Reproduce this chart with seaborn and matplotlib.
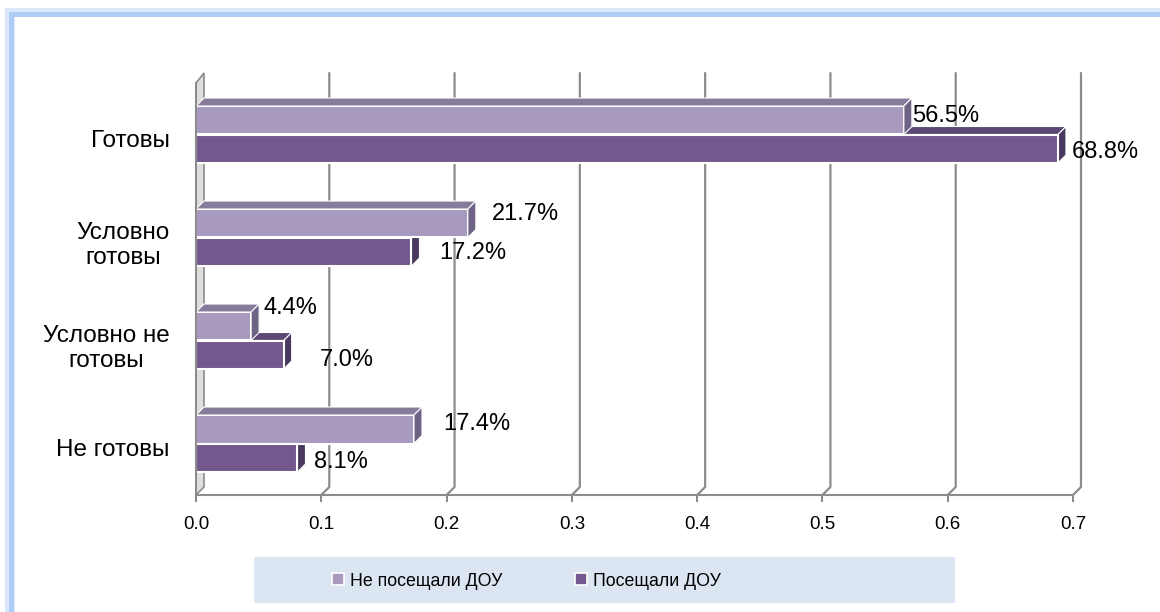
import matplotlib
matplotlib.use("Agg")
import matplotlib.pyplot as plt
import matplotlib.transforms as mtransforms
from matplotlib.patches import Polygon, Rectangle, Patch
from matplotlib.ticker import FormatStrFormatter
import pandas as pd
import seaborn as sns

# data
categories = ["Готовы", "Условно\nготовы", "Условно не\nготовы", "Не готовы"]
groups = ["Не посещали ДОУ", "Посещали ДОУ"]
not_visited = [0.565, 0.217, 0.044, 0.174]
visited = [0.688, 0.172, 0.070, 0.081]
x_ticks = [0.0, 0.1, 0.2, 0.3, 0.4, 0.5, 0.6, 0.7]

# per-label nudges in pixels (dx from bar end, dy down from bar centre)
label_nudge = {
    groups[0]: [(8, -4), (24, -9), (12, -18), (29, -5)],
    groups[1]: [(14, 3), (28, 1), (36, 5), (17, 4)],
}

front = {groups[0]: "#a899be", groups[1]: "#72588c"}
top_col = {groups[0]: "#877b9c", groups[1]: "#5c4775"}
side_col = {groups[0]: "#6e6385", groups[1]: "#4a3a5f"}
grid_col = "#8c8c8c"
DX, DY = 8, 8  # 3d depth in pixels

df = pd.DataFrame({
    "category": categories * 2,
    "group": [groups[0]] * len(categories) + [groups[1]] * len(categories),
    "value": not_visited + visited,
})

sns.set_style("white")
plt.rcParams["font.family"] = ["Liberation Sans", "DejaVu Sans"]
plt.rcParams["text.color"] = "black"
plt.rcParams["xtick.color"] = "black"
plt.rcParams["ytick.color"] = "black"

fig = plt.figure(figsize=(11.6, 6.12), dpi=100)
W, H = 1160, 612
ax = fig.add_axes([196 / W, 1 - 495 / H, 877 / W, 412 / H])
ax.patch.set_alpha(0)

sns.barplot(data=df, x="value", y="category", hue="group", order=categories,
            hue_order=groups, palette=front, orient="h", width=0.553,
            edgecolor="white", linewidth=1.5, saturation=1, legend=False,
            ax=ax, zorder=2)

ax.set_xlim(0, 0.7)
ax.set_ylim(3.5, -0.5)
ax.set_xticks(x_ticks)
ax.xaxis.set_major_formatter(FormatStrFormatter("%.1f"))
ax.set_yticks([-0.5, 0.5, 1.5, 2.5, 3.5])
ax.set_yticklabels([])
ax.set_yticks(range(len(categories)), minor=True)
ax.set_yticklabels(categories, minor=True, fontsize=17.5, ha="right",
                   multialignment="center")
ax.tick_params(axis="y", which="minor", length=0, pad=19)
ax.tick_params(axis="y", which="major", length=6, width=1.5, color=grid_col)
ax.tick_params(axis="x", length=5, width=1.5, color=grid_col, pad=10,
               labelsize=13.5, direction="out", bottom=True)
for lab in ax.get_yticklabels(minor=True):
    lab.set_transform(lab.get_transform() +
                      mtransforms.Affine2D().translate(0, -4))
ax.set_xlabel("")
ax.set_ylabel("")
for s in ["top", "right"]:
    ax.spines[s].set_visible(False)
for s in ["left", "bottom"]:
    ax.spines[s].set_color(grid_col)
    ax.spines[s].set_linewidth(1.5)
    ax.spines[s].set_zorder(3)

ident = mtransforms.IdentityTransform()
to_disp = ax.transData.transform
ybot = to_disp((0, 3.5))[1]
ytop = to_disp((0, -0.5))[1]

# back wall gridlines with slanted floor part
for v in x_ticks[1:]:
    xd = to_disp((v, 0))[0]
    ax.plot([xd, xd + DX, xd + DX], [ybot, ybot + DY, ytop + DY + 2],
            color=grid_col, lw=1.6, transform=ident, clip_on=False, zorder=0.5)

# left side wall
x0 = to_disp((0, 0))[0]
wall = Polygon([(x0, ybot), (x0, ytop), (x0 + DX, ytop + DY + 2),
                (x0 + DX, ybot + DY)], closed=True, facecolor="#dedede",
               edgecolor=grid_col, lw=1.2, transform=ident, clip_on=False,
               zorder=0.6)
ax.add_patch(wall)

# 3d top and side faces of the bars
for gi, (g, cont) in enumerate(zip(groups, ax.containers)):
    z = 2.5 if gi == 0 else 1.5
    for bar in cont:
        (bx0, by0) = to_disp((bar.get_x(), bar.get_y()))
        (bx1, by1) = to_disp((bar.get_x() + bar.get_width(),
                              bar.get_y() + bar.get_height()))
        yt, yb = max(by0, by1), min(by0, by1)
        topf = Polygon([(bx0, yt), (bx1, yt), (bx1 + DX, yt + DY),
                        (bx0 + DX, yt + DY)], closed=True,
                       facecolor=top_col[g], edgecolor="white", lw=0.8,
                       transform=ident, clip_on=False, zorder=z)
        sidef = Polygon([(bx1, yb), (bx1, yt), (bx1 + DX, yt + DY),
                         (bx1 + DX, yb + DY)], closed=True,
                        facecolor=side_col[g], edgecolor="white", lw=0.8,
                        transform=ident, clip_on=False, zorder=z)
        ax.add_patch(topf)
        ax.add_patch(sidef)

# value labels
for g, cont in zip(groups, ax.containers):
    for bar, (ndx, ndy) in zip(cont, label_nudge[g]):
        val = bar.get_width()
        yc = bar.get_y() + bar.get_height() / 2
        ax.annotate(f"{val * 100:.1f}%", xy=(val, yc), xytext=(ndx, -ndy),
                    textcoords="offset pixels", ha="left", va="center",
                    fontsize=17, color="black", zorder=4,
                    annotation_clip=False)

# legend with its band
fig.patches.append(Rectangle((254 / W, 1 - 603 / H), 701 / W, 46 / H,
                             transform=fig.transFigure, facecolor="#dce6f2",
                             edgecolor="none", zorder=0))
handles = [Patch(facecolor=front[g], edgecolor="white", lw=1.2) for g in groups]
fig.legend(handles, groups, loc="center left",
           bbox_to_anchor=(316 / W, 1 - 581 / H), ncol=2, frameon=False,
           fontsize=12.8, handlelength=0.65, handleheight=0.65,
           handletextpad=0.35, columnspacing=4.1)

# light blue frame on top and left edges
fig.patches.append(Rectangle((5 / W, 0), 10 / W, 1 - 8 / H,
                             transform=fig.transFigure, facecolor="#dbe8fb",
                             edgecolor="none", zorder=-1))
fig.patches.append(Rectangle((5 / W, 1 - 17 / H), 1, 9 / H,
                             transform=fig.transFigure, facecolor="#dbe8fb",
                             edgecolor="none", zorder=-1))
fig.patches.append(Rectangle((9 / W, 0), 5 / W, 1 - 12 / H,
                             transform=fig.transFigure, facecolor="#aecdf6",
                             edgecolor="none", zorder=-1))
fig.patches.append(Rectangle((9 / W, 1 - 17 / H), 1, 5 / H,
                             transform=fig.transFigure, facecolor="#aecdf6",
                             edgecolor="none", zorder=-1))

fig.savefig("out.png", dpi=100)
